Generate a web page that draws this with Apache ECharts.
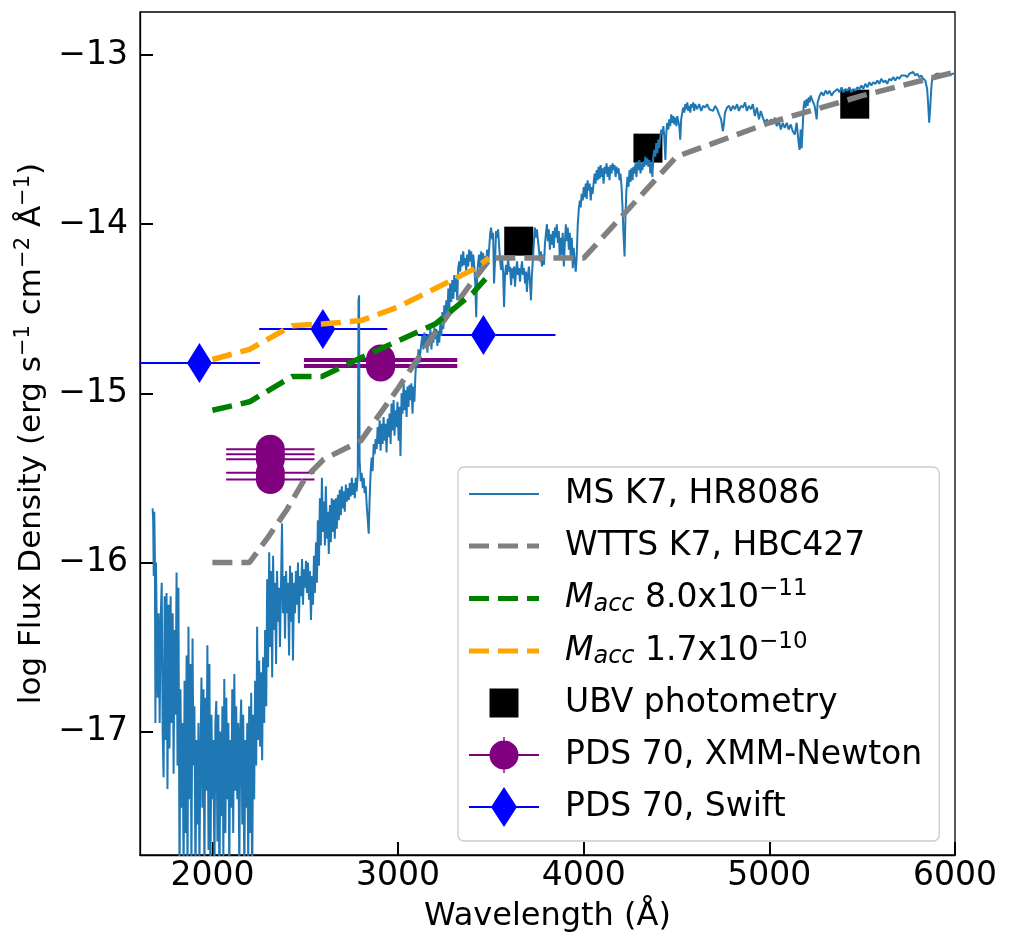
<!DOCTYPE html>
<html>
<head>
<meta charset="utf-8">
<script src="https://cdn.jsdelivr.net/npm/echarts@6/dist/echarts.min.js"></script>
<style>
html, body { margin: 0; padding: 0; background: #fff; }
#demo { width: 1011px; height: 952px; }
</style>
</head>
<body>
<div id="demo"></div>
<script>
// tick positions
var xTicks = [2000, 3000, 4000, 5000, 6000];
var yTicks = [-17, -16, -15, -14, -13];

// MS K7 template spectrum (wavelength A, log flux)
var msK7 = [
  [1678,-15.68],[1681,-15.75],[1684,-16.08],[1687,-15.70],[1690,-15.95],[1693,-16.95],[1696,-16.00],[1700,-16.35],
  [1705,-16.80],[1710,-16.30],[1716,-16.95],[1721,-16.35],[1727,-16.12],[1732,-17.00],[1737,-17.27],[1743,-16.20],
  [1748,-17.05],[1753,-16.18],[1758,-17.34],[1764,-16.25],[1769,-17.10],[1775,-16.20],[1780,-16.95],[1786,-16.30],
  [1791,-17.25],[1796,-16.40],[1801,-16.90],[1807,-16.06],[1812,-17.20],[1817,-16.15],[1823,-17.90],[1828,-16.75],
  [1834,-17.45],[1839,-16.95],[1845,-17.85],[1850,-16.70],[1855,-17.60],[1861,-16.55],[1866,-17.95],[1871,-16.38],
  [1877,-17.40],[1882,-16.60],[1887,-17.85],[1893,-16.45],[1898,-17.20],[1903,-16.85],[1909,-17.90],[1914,-17.05],
  [1920,-17.55],[1925,-16.95],[1930,-17.80],[1936,-17.10],[1941,-16.68],[1946,-17.45],[1952,-16.75],[1957,-17.90],
  [1962,-16.80],[1968,-17.35],[1973,-16.49],[1979,-17.70],[1984,-16.60],[1989,-17.95],[1995,-16.90],[2000,-17.40],
  [2005,-17.05],[2011,-17.85],[2016,-16.95],[2021,-16.82],[2027,-17.65],[2032,-16.90],[2038,-17.95],[2043,-17.00],
  [2048,-17.50],[2054,-16.85],[2059,-17.75],[2064,-16.69],[2070,-17.60],[2075,-16.80],[2080,-17.40],[2086,-16.95],
  [2091,-17.85],[2096,-17.05],[2102,-17.45],[2107,-16.75],[2112,-17.60],[2118,-16.66],[2123,-17.35],[2128,-16.85],
  [2134,-17.40],[2139,-16.95],[2145,-17.85],[2150,-17.00],[2155,-16.81],[2161,-17.55],[2166,-16.90],[2172,-17.90],
  [2177,-17.05],[2182,-17.45],[2188,-16.95],[2193,-17.80],[2198,-16.85],[2204,-17.60],[2209,-16.77],[2214,-17.95],
  [2220,-16.90],[2225,-17.40],[2230,-16.70],[2236,-17.20],[2241,-16.38],[2246,-17.05],[2252,-16.58],[2257,-17.09],
  [2262,-16.65],[2268,-17.17],[2273,-16.56],[2279,-16.95],[2284,-16.40],[2290,-16.85],[2295,-16.10],[2300,-16.62],
  [2306,-15.94],[2311,-16.50],[2316,-16.05],[2322,-16.68],[2327,-15.96],[2332,-16.40],[2338,-16.12],[2343,-16.60],
  [2348,-16.05],[2354,-16.35],[2359,-16.15],[2364,-16.50],[2370,-16.10],[2375,-15.77],[2380,-16.30],[2386,-16.08],
  [2391,-16.45],[2397,-16.05],[2402,-16.30],[2407,-16.12],[2413,-16.55],[2418,-16.02],[2424,-16.35],[2429,-16.06],
  [2434,-16.58],[2440,-16.12],[2445,-16.30],[2450,-16.05],[2456,-16.25],[2461,-16.00],[2466,-16.36],[2472,-16.08],
  [2477,-16.20],[2483,-15.98],[2488,-16.25],[2493,-16.04],[2499,-16.15],[2504,-15.99],[2509,-16.18],[2515,-16.00],
  [2520,-16.22],[2525,-16.05],[2531,-16.34],[2536,-16.08],[2542,-16.25],[2547,-15.96],[2552,-16.18],[2558,-15.88],
  [2563,-16.12],[2568,-15.75],[2574,-16.02],[2579,-15.62],[2584,-15.90],[2590,-15.50],[2595,-15.82],[2601,-15.64],
  [2606,-15.90],[2611,-15.55],[2617,-15.86],[2622,-15.70],[2627,-15.95],[2633,-15.66],[2638,-15.88],[2643,-15.62],
  [2649,-15.82],[2654,-15.63],[2659,-15.86],[2665,-15.62],[2670,-15.80],[2676,-15.60],[2681,-15.75],[2686,-15.57],
  [2692,-15.72],[2697,-15.55],[2702,-15.68],[2708,-15.58],[2713,-15.70],[2719,-15.54],[2724,-15.64],[2729,-15.56],
  [2735,-15.63],[2740,-15.53],[2745,-15.61],[2751,-15.50],[2756,-15.60],[2761,-15.53],[2767,-15.62],[2772,-15.50],
  [2777,-15.58],[2783,-15.48],[2787,-14.45],[2790,-14.42],[2793,-15.40],[2799,-15.52],[2804,-15.47],[2810,-15.56],
  [2815,-15.50],[2820,-15.59],[2826,-15.55],[2831,-15.66],[2837,-15.75],[2842,-15.83],[2847,-15.62],[2853,-15.45],
  [2858,-15.38],[2863,-15.46],[2869,-15.30],[2874,-15.36],[2879,-15.27],[2885,-15.33],[2890,-15.20],[2895,-15.30],
  [2901,-15.16],[2906,-15.34],[2912,-15.18],[2917,-15.30],[2922,-15.14],[2928,-15.28],[2933,-15.18],[2938,-15.35],
  [2944,-15.15],[2949,-15.26],[2954,-15.12],[2960,-15.30],[2965,-15.06],[2970,-15.22],[2976,-15.04],[2981,-15.25],
  [2986,-15.10],[2992,-15.20],[2997,-15.05],[3003,-15.28],[3008,-15.08],[3013,-15.37],[3019,-15.00],[3024,-15.12],
  [3030,-14.94],[3035,-15.10],[3040,-14.98],[3046,-15.14],[3051,-14.96],[3056,-15.08],[3062,-14.95],[3067,-15.04],
  [3072,-14.94],[3078,-15.12],[3083,-14.96],[3088,-15.05],[3094,-14.88],[3099,-14.80],[3104,-14.84],[3110,-14.74],
  [3115,-14.82],[3120,-14.76],[3126,-14.70],[3131,-14.66],[3137,-14.74],[3142,-14.64],[3147,-14.72],[3153,-14.66],
  [3158,-14.76],[3164,-14.65],[3169,-14.70],[3174,-14.62],[3180,-14.74],[3185,-14.64],[3190,-14.70],[3196,-14.61],
  [3201,-14.68],[3206,-14.62],[3212,-14.72],[3217,-14.63],[3222,-14.70],[3228,-14.58],[3233,-14.66],[3239,-14.52],
  [3244,-14.62],[3249,-14.48],[3255,-14.57],[3260,-14.45],[3265,-14.55],[3271,-14.38],[3276,-14.50],[3281,-14.35],
  [3287,-14.46],[3292,-14.33],[3298,-14.44],[3303,-14.30],[3308,-14.40],[3314,-14.32],[3319,-14.45],[3324,-14.26],
  [3330,-14.22],[3335,-14.28],[3340,-14.18],[3346,-14.25],[3351,-14.16],[3356,-14.24],[3362,-14.20],[3367,-14.28],
  [3372,-14.18],[3378,-14.25],[3383,-14.15],[3389,-14.22],[3394,-14.16],[3399,-14.27],[3405,-14.18],[3410,-14.24],
  [3416,-14.35],[3421,-14.55],[3426,-14.30],[3432,-14.22],[3437,-14.18],[3442,-14.26],[3448,-14.16],[3453,-14.24],
  [3458,-14.17],[3464,-14.25],[3469,-14.19],[3475,-14.22],[3480,-14.15],[3485,-14.23],[3491,-14.14],[3496,-14.06],
  [3501,-14.02],[3507,-14.09],[3512,-14.05],[3517,-14.35],[3523,-14.20],[3528,-14.04],[3533,-14.08],[3539,-14.03],
  [3544,-14.12],[3550,-14.22],[3555,-14.27],[3560,-14.19],[3566,-14.29],[3571,-14.49],[3576,-14.30],[3582,-14.24],
  [3587,-14.30],[3593,-14.20],[3598,-14.28],[3603,-14.25],[3609,-14.36],[3614,-14.26],[3619,-14.32],[3625,-14.25],
  [3630,-14.37],[3635,-14.28],[3641,-14.22],[3646,-14.30],[3651,-14.26],[3657,-14.34],[3662,-14.27],[3668,-14.22],
  [3673,-14.30],[3678,-14.26],[3684,-14.35],[3689,-14.28],[3694,-14.40],[3700,-14.30],[3705,-14.25],[3710,-14.33],
  [3716,-14.45],[3721,-14.30],[3727,-14.20],[3732,-14.10],[3737,-14.02],[3743,-14.08],[3748,-14.03],[3753,-14.09],
  [3759,-14.15],[3764,-14.22],[3769,-14.16],[3775,-14.25],[3780,-14.18],[3786,-14.24],[3791,-14.12],[3796,-14.06],
  [3802,-14.00],[3807,-14.10],[3812,-14.03],[3818,-14.15],[3823,-14.06],[3829,-14.12],[3834,-14.04],[3839,-14.14],
  [3845,-14.02],[3850,-14.08],[3855,-14.00],[3861,-14.11],[3866,-14.04],[3871,-14.20],[3877,-14.08],[3882,-14.18],
  [3887,-14.05],[3893,-14.25],[3898,-14.12],[3904,-14.00],[3909,-14.10],[3914,-14.02],[3920,-14.15],[3925,-14.05],
  [3930,-14.20],[3936,-14.08],[3941,-14.26],[3946,-14.14],[3952,-14.22],[3957,-14.28],[3962,-14.20],[3968,-14.00],
  [3973,-13.92],[3979,-13.86],[3984,-13.90],[3989,-13.82],[3995,-13.86],[4000,-13.78],[4005,-13.84],[4011,-13.76],
  [4016,-13.85],[4021,-13.74],[4027,-13.80],[4032,-13.76],[4038,-13.86],[4043,-13.78],[4048,-13.82],[4054,-13.75],
  [4059,-13.70],[4064,-13.76],[4070,-13.68],[4075,-13.74],[4080,-13.66],[4086,-13.73],[4091,-13.65],[4096,-13.72],
  [4102,-13.67],[4107,-13.76],[4113,-13.66],[4118,-13.70],[4123,-13.64],[4129,-13.72],[4134,-13.66],[4139,-13.74],
  [4145,-13.65],[4150,-13.70],[4156,-13.64],[4161,-13.68],[4166,-13.65],[4172,-13.72],[4177,-13.66],[4182,-13.70],
  [4188,-13.67],[4193,-13.74],[4198,-13.70],[4204,-13.78],[4209,-13.90],[4214,-14.05],[4220,-14.19],[4225,-13.95],
  [4230,-13.80],[4236,-13.72],[4241,-13.78],[4247,-13.68],[4252,-13.75],[4257,-13.67],[4263,-13.74],[4268,-13.66],
  [4273,-13.70],[4279,-13.64],[4284,-13.72],[4290,-13.63],[4295,-13.68],[4300,-13.62],[4306,-13.70],[4311,-13.64],
  [4316,-13.68],[4322,-13.63],[4327,-13.66],[4332,-13.60],[4338,-13.65],[4343,-13.61],[4348,-13.66],[4354,-13.62],
  [4359,-13.70],[4365,-13.64],[4370,-13.72],[4375,-13.60],[4381,-13.56],[4386,-13.60],[4391,-13.52],[4397,-13.58],
  [4402,-13.50],[4407,-13.55],[4413,-13.48],[4418,-13.44],[4424,-13.47],[4429,-13.42],[4434,-13.48],[4440,-13.62],
  [4445,-13.46],[4450,-13.40],[4456,-13.44],[4461,-13.38],[4466,-13.42],[4472,-13.35],[4477,-13.40],[4483,-13.36],
  [4488,-13.41],[4493,-13.37],[4499,-13.42],[4504,-13.36],[4509,-13.39],[4515,-13.42],[4520,-13.50],[4525,-13.38],
  [4531,-13.34],[4536,-13.31],[4542,-13.34],[4547,-13.29],[4552,-13.32],[4558,-13.28],[4563,-13.33],[4568,-13.30],
  [4574,-13.34],[4579,-13.29],[4584,-13.31],[4590,-13.28],[4595,-13.33],[4600,-13.29],[4611,-13.32],[4622,-13.29],
  [4633,-13.33],[4643,-13.30],[4654,-13.31],[4665,-13.29],[4676,-13.32],[4686,-13.31],[4697,-13.33],[4708,-13.30],
  [4719,-13.32],[4729,-13.35],[4740,-13.38],[4750,-13.45],[4756,-13.40],[4761,-13.34],[4772,-13.31],[4783,-13.30],
  [4793,-13.33],[4804,-13.30],[4815,-13.32],[4826,-13.29],[4836,-13.33],[4847,-13.30],[4858,-13.31],[4869,-13.28],
  [4879,-13.33],[4890,-13.30],[4901,-13.32],[4911,-13.29],[4922,-13.36],[4933,-13.31],[4944,-13.38],[4954,-13.33],
  [4965,-13.37],[4976,-13.40],[4987,-13.38],[4997,-13.41],[5008,-13.38],[5019,-13.40],[5029,-13.37],[5040,-13.42],
  [5051,-13.39],[5062,-13.44],[5072,-13.40],[5083,-13.43],[5094,-13.40],[5104,-13.44],[5115,-13.41],[5126,-13.45],
  [5137,-13.47],[5147,-13.40],[5158,-13.52],[5163,-13.56],[5169,-13.44],[5174,-13.55],[5180,-13.42],[5185,-13.30],
  [5190,-13.27],[5196,-13.31],[5201,-13.26],[5206,-13.30],[5212,-13.25],[5217,-13.28],[5222,-13.24],[5233,-13.27],
  [5244,-13.30],[5255,-13.38],[5260,-13.28],[5271,-13.24],[5281,-13.22],[5292,-13.24],[5303,-13.21],[5314,-13.23],
  [5324,-13.21],[5335,-13.24],[5346,-13.22],[5356,-13.23],[5367,-13.20],[5378,-13.22],[5389,-13.19],[5399,-13.22],
  [5410,-13.20],[5421,-13.21],[5432,-13.19],[5442,-13.22],[5453,-13.20],[5464,-13.21],[5474,-13.19],[5485,-13.20],
  [5496,-13.18],[5506,-13.20],[5517,-13.17],[5528,-13.19],[5539,-13.16],[5549,-13.18],[5560,-13.16],[5571,-13.17],
  [5582,-13.15],[5592,-13.17],[5603,-13.14],[5614,-13.16],[5625,-13.15],[5635,-13.17],[5646,-13.14],[5657,-13.15],
  [5668,-13.13],[5678,-13.15],[5689,-13.13],[5700,-13.14],[5711,-13.12],[5721,-13.13],[5732,-13.12],[5743,-13.13],
  [5754,-13.11],[5764,-13.12],[5775,-13.10],[5786,-13.12],[5797,-13.11],[5807,-13.13],[5818,-13.12],[5829,-13.14],
  [5840,-13.15],[5850,-13.20],[5856,-13.30],[5861,-13.40],[5866,-13.32],[5872,-13.20],[5877,-13.14],[5888,-13.12],
  [5899,-13.11],[5909,-13.12],[5920,-13.11],[5931,-13.12],[5942,-13.11],[5952,-13.12],[5963,-13.11],[5974,-13.12],
  [5985,-13.11],[5995,-13.12],[6000,-13.11]
];

// WTTS template and the two accretion models
var wtts = [[2000,-16.0],[2200,-16.0],[2300,-15.85],[2400,-15.69],[2500,-15.50],[2600,-15.39],[2800,-15.28],
  [3000,-14.97],[3200,-14.64],[3400,-14.34],[3500,-14.20],[4000,-14.20],[4500,-13.60],[5000,-13.40],[5500,-13.24],[6000,-13.10]];
var acc1 = [[2000,-15.10],[2200,-15.05],[2430,-14.90],[2590,-14.90],[2800,-14.79],[3000,-14.69],[3200,-14.59],[3400,-14.41],[3490,-14.30]];
var acc2 = [[2000,-14.80],[2200,-14.74],[2430,-14.60],[2590,-14.59],[2800,-14.57],[3000,-14.49],[3200,-14.38],[3400,-14.27],[3490,-14.20]];

// UBV photometry
var ubvWave = [3650, 4346, 5460];
var ubvFlux = [-14.10, -13.55, -13.29];

// XMM-Newton OM points with wavelength ranges
var xmmWave = [2312, 2312, 2312, 2312, 2312, 2906, 2906, 2906, 2906];
var xmmFlux = [-15.33, -15.36, -15.39, -15.47, -15.51, -14.797, -14.809, -14.832, -14.844];
var xmmLo = [238, 238, 238, 238, 238, 413, 413, 413, 413];
var xmmHi = [238, 238, 238, 238, 238, 413, 413, 413, 413];

// Swift UVOT points
var swiftWave = [1930, 2595, 3460];
var swiftFlux = [-14.82, -14.62, -14.655];
var swiftLo = [326, 343, 355];
var swiftHi = [326, 347, 388];

var FONT = 'DejaVu Sans';

function pairs(a, b) {
    return a.map(function (v, i) { return [v, b[i]]; });
}

function errBars(name, wave, flux, lo, hi, color) {
    return {
        name: name,
        type: 'custom',
        clip: true,
        silent: true,
        encode: { x: 0, y: 1 },
        data: wave.map(function (w, i) { return [w, flux[i], lo[i], hi[i]]; }),
        renderItem: function (params, api) {
            var a = api.coord([api.value(0) - api.value(2), api.value(1)]);
            var b = api.coord([api.value(0) + api.value(3), api.value(1)]);
            return {
                type: 'line',
                shape: { x1: a[0], y1: a[1], x2: b[0], y2: b[1] },
                style: { stroke: color, lineWidth: 2 }
            };
        }
    };
}

function dashed(name, data, color) {
    return {
        name: name, type: 'line', data: data, symbol: 'none', showSymbol: false,
        lineStyle: { color: color, width: 5.5, type: [20, 9] },
        itemStyle: { color: color }
    };
}

var accLabels = {
    'M_acc 8.0x10^-11': ['8.0x10', '\u221211'],
    'M_acc 1.7x10^-10': ['1.7x10', '\u221210']
};

// legend icons: box 0..91 x 0..40, visible part in 0..70
var lineIcon = 'path://M0,0M91,40M0,19h70v2h-70z';
var dashIcon = 'path://M0,0M91,40M0,17.5h20v5h-20zM29,17.5h20v5h-20zM58,17.5h12v5h-12z';
var squareIcon = 'path://M0,0M91,40M20.5,5.5h29v29h-29z';
var circleIcon = 'path://M0,0M91,40M0,19h70v2h-70zM35,5.5a14.5,14.5 0 1,1 0,29a14.5,14.5 0 1,1 0,-29zM34.3,2h1.4v36h-1.4z';
var diamondIcon = 'path://M0,0M91,40M0,19h70v2h-70zM35,0l13,20l-13,20l-13,-20z';

var option = {
    animation: false,
    textStyle: { fontFamily: FONT },
    grid: {
        left: 140, right: 56, top: 12, bottom: 97,
        show: true, borderColor: '#000', borderWidth: 1.3
    },
    xAxis: {
        type: 'value', min: 1610, max: 6000,
        name: 'Wavelength (\u00c5)', nameLocation: 'middle', nameGap: 46,
        nameTextStyle: { fontSize: 32, color: '#000', fontFamily: FONT },
        axisLine: { show: true, onZero: false, lineStyle: { color: '#000', width: 1.3 } },
        axisTick: { inside: true, length: 13, customValues: xTicks, lineStyle: { color: '#000', width: 2 } },
        axisLabel: {
            customValues: xTicks, fontSize: 33, color: '#000', margin: 5, fontFamily: FONT,
            formatter: function (v) { return String(v); }
        },
        splitLine: { show: false }
    },
    yAxis: {
        type: 'value', min: -17.73, max: -12.745,
        name: '{n|log Flux Density (erg s}{sup|\u22121}{n| cm}{sup|\u22122}{n| \u00c5}{sup|\u22121}{n|)}',
        nameLocation: 'middle', nameGap: 84,
        nameTextStyle: {
            color: '#000',
            rich: {
                n: { fontSize: 31, fontFamily: FONT, color: '#000' },
                sup: { fontSize: 21, fontFamily: FONT, color: '#000', padding: [0, 0, 17, 0] }
            }
        },
        axisLine: { show: true, onZero: false, lineStyle: { color: '#000', width: 1.3 } },
        axisTick: { inside: true, length: 13, customValues: yTicks, lineStyle: { color: '#000', width: 2 } },
        axisLabel: {
            customValues: yTicks, fontSize: 33, color: '#000', margin: 12, fontFamily: FONT,
            formatter: function (v) { return (v < 0 ? '\u2212' : '') + Math.abs(v); }
        },
        splitLine: { show: false }
    },
    legend: {
        orient: 'vertical', left: 458, top: 467,
        padding: [7, 17, 14, 11],
        itemWidth: 91, itemHeight: 40, itemGap: 12,
        selectedMode: false,
        backgroundColor: 'rgba(255,255,255,0.85)',
        borderColor: '#cccccc', borderWidth: 1.3, borderRadius: 6,
        itemStyle: { borderWidth: 0 },
        formatter: function (name) {
            var a = accLabels[name];
            if (a) return '{it|M}{sub|acc}{n| ' + a[0] + '}{sup|' + a[1] + '}';
            return '{n|' + name + '}';
        },
        textStyle: {
            color: '#000',
            rich: {
                n: { fontSize: 33, fontFamily: FONT, color: '#000' },
                it: { fontSize: 33, fontFamily: FONT, fontStyle: 'italic', color: '#000' },
                sub: { fontSize: 24, fontFamily: FONT, fontStyle: 'italic', color: '#000', padding: [12, 0, 0, 0] },
                sup: { fontSize: 23, fontFamily: FONT, color: '#000', padding: [0, 0, 18, 0] }
            }
        },
        data: [
            { name: 'MS K7, HR8086', icon: lineIcon, itemStyle: { color: '#1f77b4' } },
            { name: 'WTTS K7, HBC427', icon: dashIcon, itemStyle: { color: '#808080' } },
            { name: 'M_acc 8.0x10^-11', icon: dashIcon, itemStyle: { color: '#008000' } },
            { name: 'M_acc 1.7x10^-10', icon: dashIcon, itemStyle: { color: '#ffa500' } },
            { name: 'UBV photometry', icon: squareIcon, itemStyle: { color: '#000000' } },
            { name: 'PDS 70, XMM-Newton', icon: circleIcon, itemStyle: { color: '#800080' } },
            { name: 'PDS 70, Swift', icon: diamondIcon, itemStyle: { color: '#0000ff' } }
        ]
    },
    series: [
        {
            name: 'MS K7, HR8086', type: 'line', data: msK7, symbol: 'none', showSymbol: false,
            lineStyle: { color: '#1f77b4', width: 2 }, itemStyle: { color: '#1f77b4' }
        },
        dashed('WTTS K7, HBC427', wtts, '#808080'),
        dashed('M_acc 8.0x10^-11', acc1, '#008000'),
        dashed('M_acc 1.7x10^-10', acc2, '#ffa500'),
        {
            name: 'UBV photometry', type: 'scatter', data: pairs(ubvWave, ubvFlux),
            symbol: 'rect', symbolSize: 29, itemStyle: { color: '#000', opacity: 1 }
        },
        errBars('xmm bars', xmmWave, xmmFlux, xmmLo, xmmHi, '#800080'),
        {
            name: 'PDS 70, XMM-Newton', type: 'scatter', data: pairs(xmmWave, xmmFlux),
            symbol: 'circle', symbolSize: 29, itemStyle: { color: '#800080', opacity: 1 }
        },
        errBars('swift bars', swiftWave, swiftFlux, swiftLo, swiftHi, '#0000ff'),
        {
            name: 'PDS 70, Swift', type: 'scatter', data: pairs(swiftWave, swiftFlux),
            symbol: 'diamond', symbolSize: [25, 40], itemStyle: { color: '#0000ff', opacity: 1 }
        }
    ]
};

var myChart = echarts.init(document.getElementById('demo'));
myChart.setOption(option);
window.onresize = function () {
    myChart.resize();
};
</script>
</body>
</html>
